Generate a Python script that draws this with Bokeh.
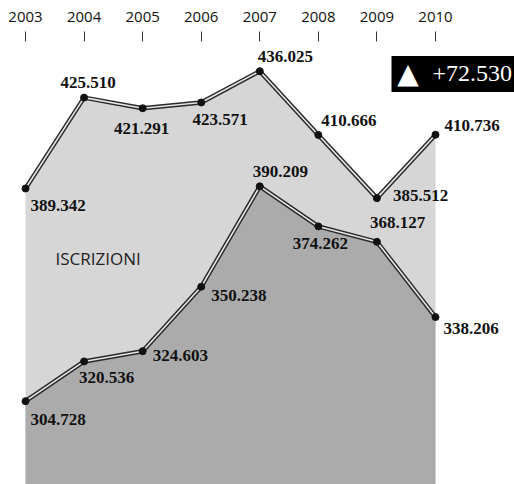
from bokeh.plotting import figure
from bokeh.models import ColumnDataSource, Range1d, LinearAxis, FixedTicker, Label
from bokeh.embed import file_html
from bokeh.resources import INLINE
from bokeh.core.properties import value

# ---- data ----
years = [2003, 2004, 2005, 2006, 2007, 2008, 2009, 2010]
series_top = [389.342, 425.510, 421.291, 423.571, 436.025, 410.666, 385.512, 410.736]
series_iscrizioni = [304.728, 320.536, 324.603, 350.238, 390.209, 374.262, 368.127, 338.206]
area_label = "ISCRIZIONI"

# ---- layout of value labels (screen-pixel offsets) ----
top_dx = [5, 4, -1, 19, -2, 3, 16, 9]
top_dy = [17, -15, 20, 17, -15, -14, -3, -9]
top_align = ["left", "center", "center", "center", "left", "left", "left", "left"]
low_dx = [5, -5, 10, 10, -7, 2, -7, 8]
low_dy = [18, 16, 4, 9, -15, 17, -19, 11]
low_align = ["left", "left", "left", "left", "left", "center", "left", "left"]

BASE = 271.56


def fmt(v):
    return f"{v:.3f}"


W, H = 514, 484
p = figure(width=W, height=H, output_backend="svg", toolbar_location=None,
           x_range=Range1d(2002.573, 2011.349), y_range=Range1d(BASE, 451.82),
           x_axis_type=None, y_axis_type=None,
           min_border_left=0, min_border_right=0, min_border_bottom=0,
           min_border_top=31)
p.outline_line_color = None
p.grid.visible = False
p.background_fill_color = "white"
p.border_fill_color = "white"

# year axis on top
ax = LinearAxis(ticker=FixedTicker(ticks=years))
ax.axis_line_color = None
ax.major_tick_in = 10
ax.major_tick_out = 0
ax.minor_tick_line_color = None
ax.major_tick_line_color = "#333333"
ax.major_tick_line_width = 1
ax.major_label_standoff = 10
ax.major_label_text_font = "Open Sans"
ax.major_label_text_font_size = "15px"
ax.major_label_text_color = "#111111"
p.add_layout(ax, "above")

src_top = ColumnDataSource(dict(
    x=years, y=series_top, base=[BASE] * len(years),
    txt=[fmt(v) for v in series_top], dx=top_dx, dy=top_dy, al=top_align))
src_low = ColumnDataSource(dict(
    x=years, y=series_iscrizioni, base=[BASE] * len(years),
    txt=[fmt(v) for v in series_iscrizioni], dx=low_dx, dy=low_dy, al=low_align))

# areas
p.varea(x="x", y1="base", y2="y", source=src_top, fill_color="#d6d6d6")
p.varea(x="x", y1="base", y2="y", source=src_low, fill_color="#ababab")

# double lines
for src in (src_top, src_low):
    p.line(x="x", y="y", source=src, line_color="#2a2a2a", line_width=4.5)
    p.line(x="x", y="y", source=src, line_color="#e4e4e4", line_width=1.6)
    p.scatter(x="x", y="y", source=src, size=7, fill_color="#111111", line_color="#111111")

for src in (src_top, src_low):
    p.text(x="x", y="y", text="txt", source=src, x_offset="dx", y_offset="dy",
           text_align="al", text_baseline="middle",
           text_font=value("Liberation Serif"), text_font_style="bold",
           text_font_size="17px", text_color="#111111")

p.add_layout(Label(x=2003.512, y=361.5, text=area_label, text_font="Open Sans",
                   text_font_size="17px", text_color="#222222",
                   text_baseline="middle", text_align="left"))

delta = series_top[-1] - series_iscrizioni[-1]
p.add_layout(Label(x=2009.249, y=434.91, text=f"+{delta:.3f}",
                   text_font="Liberation Serif", text_font_size="24px",
                   text_color="white", text_align="left", text_baseline="middle",
                   background_fill_color="black", padding=(41, 4, 10, 11)))
p.add_layout(Label(x=2009.531, y=435.2, text="\u25B2",
                   text_font="DejaVu Sans", text_font_size="28px",
                   text_color="white", text_align="center", text_baseline="middle"))

open("out.html", "w").write(file_html(p, INLINE))
